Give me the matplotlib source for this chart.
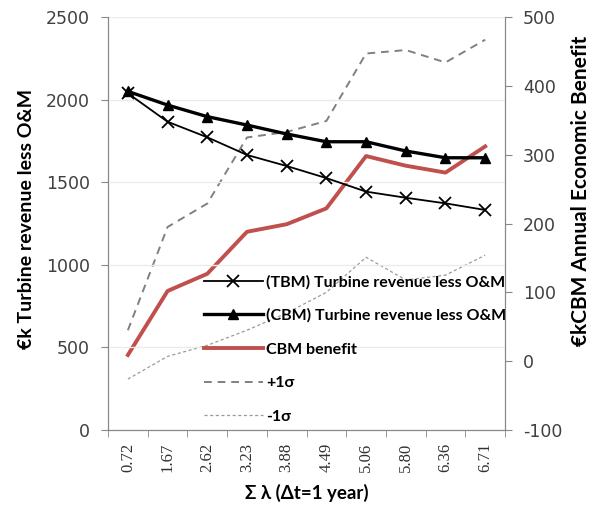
import matplotlib.pyplot as plt
from matplotlib.ticker import FixedLocator, NullFormatter

plt.rcParams['font.family'] = ['Lato', 'DejaVu Sans']
plt.rcParams['axes.unicode_minus'] = False

# cumulative failure rate categories (x axis)
lam = ['0.72', '1.67', '2.62', '3.23', '3.88', '4.49', '5.06', '5.80', '6.36', '6.71']

# left axis, k EUR
tbm = [2038, 1866, 1772, 1665, 1598, 1525, 1443, 1406, 1372, 1332]
cbm = [2050, 1967, 1897, 1846, 1792, 1745, 1745, 1689, 1648, 1648]

# right axis, k EUR
benefit = [9, 102, 127, 188, 199, 222, 298, 284, 274, 312]
plus_sd = [45, 195, 229, 325, 333, 349, 447, 452, 434, 467]
minus_sd = [-26, 7, 23, 45, 70, 100, 151, 118, 125, 154]

x = list(range(len(lam)))

fig = plt.figure(figsize=(6.07, 5.08), dpi=100)
ax = fig.add_axes([0.178, 0.1535, 0.654, 0.813])
ax2 = ax.twinx()

# right axis series
l3, = ax2.plot(x, benefit, color='#C0504D', lw=2.8, label='CBM benefit')
l4, = ax2.plot(x, plus_sd, color='#808080', lw=1.4, dashes=(4, 3), label='+1σ')
l5, = ax2.plot(x, minus_sd, color='#9a9a9a', lw=0.9, dashes=(2.5, 2), label='-1σ')

# left axis series
l1, = ax.plot(x, tbm, color='black', lw=1.3, marker='x', ms=9, mew=1.3,
              label='(TBM) Turbine revenue less O&M')
l2, = ax.plot(x, cbm, color='black', lw=2.4, marker='^', ms=7,
              label='(CBM) Turbine revenue less O&M')

ax.set_zorder(ax2.get_zorder() + 1)
ax.patch.set_visible(False)

ax.set_xlim(-0.5, 9.5)
ax.set_ylim(0, 2500)
ax.set_yticks([0, 500, 1000, 1500, 2000, 2500])
ax2.set_ylim(-100, 500)
ax2.set_yticks([-100, 0, 100, 200, 300, 400, 500])

ax.set_xticks(x)
ax.set_xticklabels(lam, rotation=90, family='Liberation Serif', fontsize=12, color='#303030')
ax.tick_params(axis='x', which='major', length=0, pad=9)
ax.xaxis.set_minor_locator(FixedLocator([i - 0.5 for i in range(11)]))
ax.xaxis.set_minor_formatter(NullFormatter())
ax.tick_params(axis='x', which='minor', length=5, color='#888888')

for a in (ax, ax2):
    a.tick_params(axis='y', labelsize=12.5, labelcolor='#404040', color='#888888',
                  length=5, pad=8)
    for lab in a.get_yticklabels():
        lab.set_family('DejaVu Sans')
    a.spines['top'].set_visible(False)
    for s in ('left', 'right', 'bottom'):
        a.spines[s].set_color('#888888')

ax.yaxis.grid(True, color='#ebebeb', lw=1)
ax.set_axisbelow(True)

ax.set_ylabel('€k Turbine revenue less O&M', fontsize=14, fontweight='bold')
ax.yaxis.set_label_coords(-0.183, 0.51)
ax2.set_ylabel('€kCBM Annual Economic Benefit', fontsize=15, fontweight='bold')
ax2.yaxis.set_label_coords(1.166, 0.58)
ax.set_xlabel('Σ λ (Δt=1 year)', fontsize=13.5, fontweight='bold', labelpad=9)

ax.legend(handles=[l1, l2, l3, l4, l5], loc='upper left',
          bbox_to_anchor=(0.325, 0.472), bbox_transform=fig.transFigure,
          frameon=False, handlelength=3.7, labelspacing=1.22,
          borderaxespad=0, handletextpad=0.2, prop={'weight': 'bold', 'size': 11.5})

fig.savefig('out.png', dpi=100)
